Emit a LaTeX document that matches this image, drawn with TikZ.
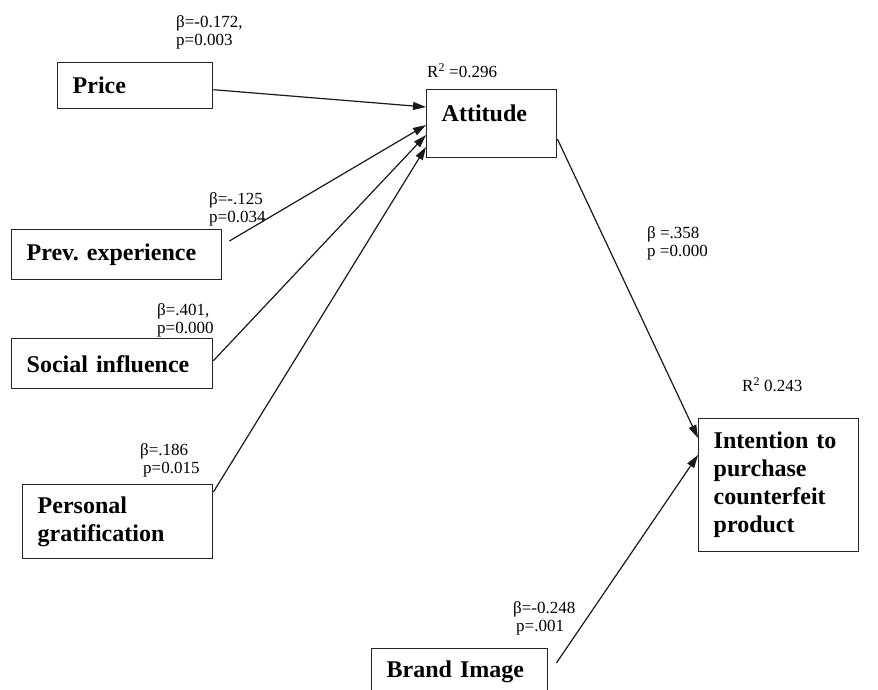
\documentclass[tikz,border=0pt]{standalone}
\usepackage{fontspec}
\setmainfont{Liberation Serif}
\usetikzlibrary{arrows.meta}
\tikzset{
  factor/.style={draw=black!85, line width=1.4pt, anchor=north west, align=left,
    inner xsep=15pt, inner ysep=0pt, font=\fontsize{24}{28}\selectfont\bfseries},
  coef/.style={anchor=north west, align=left, inner sep=0pt,
    font=\fontsize{17}{18}\selectfont},
  link/.style={draw=black!90, line width=1.2pt, -{Triangle[length=13pt,width=8pt]}}
}
\begin{document}
\begin{tikzpicture}[x=1pt,y=-1pt]
    \useasboundingbox (0,0) rectangle (878,689);
    \clip (0,0) rectangle (878,689);

    \node[factor, text width=125pt, minimum height=46pt] (price) at (57,62) {Price};
    \node[factor, text width=100pt, text height=32pt, text depth=36pt] (attitude) at (426,89) {Attitude};
    \node[factor, text width=180pt, minimum height=50pt] (prev) at (11,229) {Prev.\ experience};
    \node[factor, text width=171pt, minimum height=50pt] (social) at (11,338) {Social influence};
    \node[factor, text width=160pt, minimum height=74pt] (personal) at (22,484) {Personal\\gratification};
    \node[factor, text width=130pt, minimum height=133pt] (intention) at (698,418) {Intention to\\purchase\\counterfeit\\product};
    \node[factor, text width=146pt, text height=29pt, text depth=40pt] (brand) at (371,648) {Brand Image};

    \node[coef] (c1) at (176,15) {β=-0.172,\\p=0.003};
    \node[coef] (r1) at (427,63) {R\textsuperscript{2} =0.296};
    \node[coef] (c2) at (209,192) {β=-.125\\p=0.034};
    \node[coef] (c3) at (157,303) {β=.401,\\p=0.000};
    \node[coef] (c4) at (140,443) {β=.186\\\hspace{3pt}p=0.015};
    \node[coef] (c5) at (647,226) {β =.358\\p =0.000};
    \node[coef] (r2) at (742,377) {R\textsuperscript{2} 0.243};
    \node[coef] (c6) at (513,601) {β=-0.248\\\hspace{3pt}p=.001};

    \draw[link] ([yshift=-4pt]price.east) -- ([yshift=-18pt]attitude.north west);
    \draw[link] ([shift={(7pt,-12pt)}]prev.north east) -- ([yshift=-36pt]attitude.north west);
    \draw[link] ([yshift=3pt]social.east) -- ([yshift=-46pt]attitude.north west);
    \draw[link] ([yshift=-8pt]personal.north east) -- ([yshift=-58pt]attitude.north west);
    \draw[link] ([yshift=-50pt]attitude.north east) -- ([yshift=-20pt]intention.north west);
    \draw[link] ([shift={(8pt,-15pt)}]brand.north east) -- ([yshift=-37pt]intention.north west);
\end{tikzpicture}
\end{document}
